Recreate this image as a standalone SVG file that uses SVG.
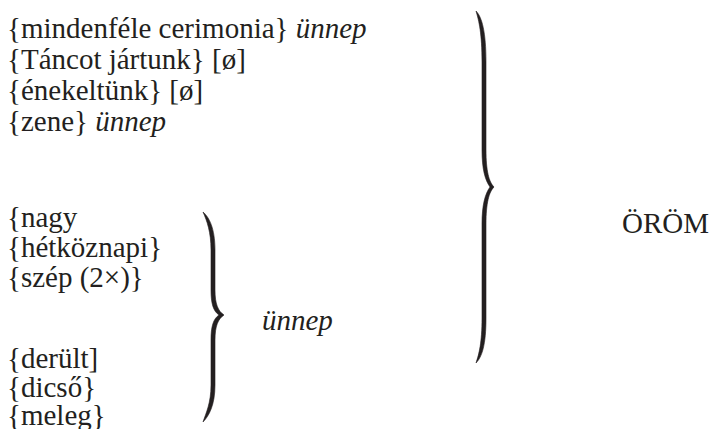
<svg xmlns="http://www.w3.org/2000/svg" width="710" height="429" viewBox="0 0 710 429">
<style>
.s{font-family:"Liberation Serif",serif;font-size:29px;fill:#231f20}
.i{font-style:italic}
.brace{fill:#231f20;stroke:#231f20;stroke-width:0.6}
</style>
<rect width="710" height="429" fill="#fff"/>
<g id="upper-list">
<text class="s" style="font-family:'Liberation Serif',serif" x="7" y="38">{mindenféle cerimonia} <tspan class="i">ünnep</tspan></text>
<text class="s" style="font-family:'Liberation Serif',serif" x="7" y="69">{Táncot jártunk} [ø]</text>
<text class="s" style="font-family:'Liberation Serif',serif" x="7" y="100">{énekeltünk} [ø]</text>
<text class="s" style="font-family:'Liberation Serif',serif" x="7" y="131">{zene} <tspan class="i">ünnep</tspan></text>
</g>
<g id="lower-list">
<text class="s" style="font-family:'Liberation Serif',serif" x="7" y="227">{nagy</text>
<text class="s" style="font-family:'Liberation Serif',serif" x="7" y="257">{hétköznapi}</text>
<text class="s" style="font-family:'Liberation Serif',serif" x="7" y="287">{szép (2×)}</text>
<text class="s" style="font-family:'Liberation Serif',serif" x="7" y="368">{derült]</text>
<text class="s" style="font-family:'Liberation Serif',serif" x="7" y="397">{dicső}</text>
<text class="s" style="font-family:'Liberation Serif',serif" x="7" y="425">{meleg}</text>
</g>
<g id="label-unnep">
<text class="s i" style="font-family:'Liberation Serif',serif" x="262" y="330">ünnep</text>
</g>
<g id="label-orom">
<text class="s" style="font-family:'Liberation Serif',serif" x="622" y="233">ÖRÖM</text>
</g>
<g id="connectors">
<path id="small-brace" class="brace" d="M203,212 C209,217 215,228 215,250 L215,290 C215,304 218,311 224,315 C218,319 215,326 215,340 L215,385 C215,405 209,416 203,422 C206,413 211,403 211,385 L211,340 C211,327 213,319 219,315 C213,311 211,303 211,290 L211,250 C211,232 207,221 203,212 Z"/>
<path id="big-brace" class="brace" d="M476,11 C482,17 486,32 486,62 L486,150 C486,171 489,182 494,187 C489,192 486,203 486,224 L486,318 C486,345 482,357 476,363 C479,354 482,343 482,318 L482,224 C482,205 485,194 490,187 C485,180 482,169 482,150 L482,62 C482,34 479,21 476,11 Z"/>
</g>
</svg>
